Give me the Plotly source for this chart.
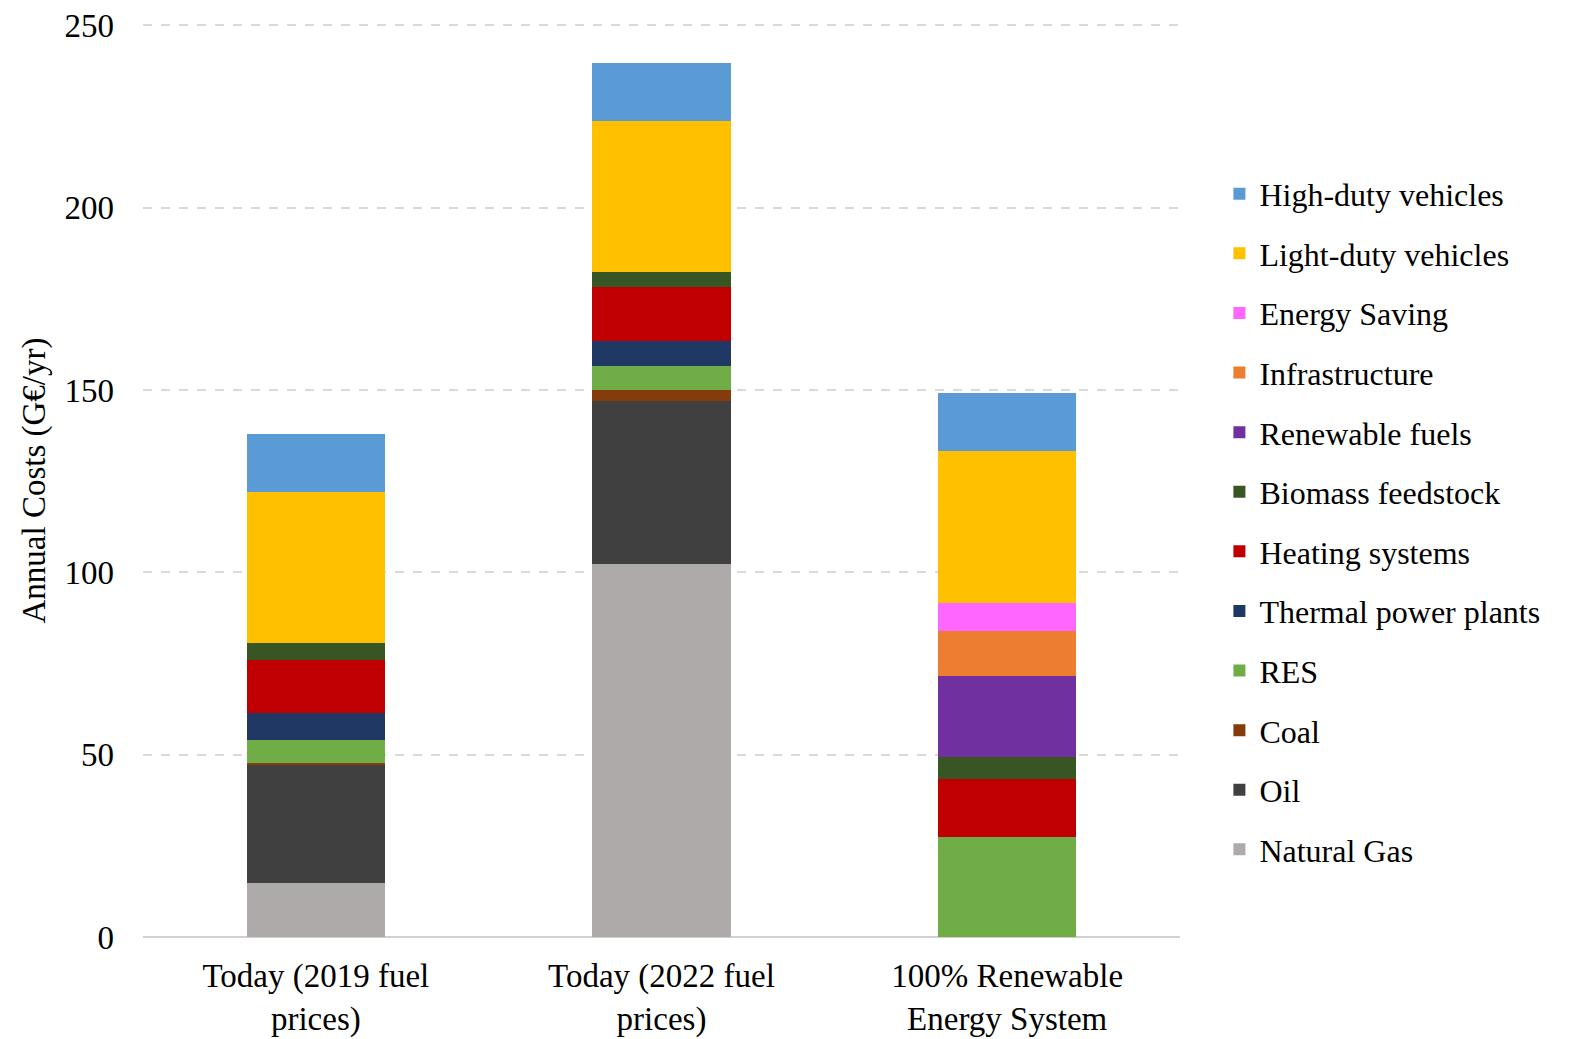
import plotly.graph_objects as go

# Scenarios on the x axis
scenarios = [
    "Today (2019 fuel<br>prices)",
    "Today (2022 fuel<br>prices)",
    "100% Renewable<br>Energy System",
]

# Annual cost components per scenario (G€/yr), bottom of the stack first
natural_gas = [14.8, 102.2, 0]
oil = [32.3, 44.7, 0]
coal = [0.6, 3.2, 0]
res = [6.4, 6.5, 27.5]
thermal_power_plants = [7.2, 6.9, 0]
heating_systems = [14.8, 14.9, 15.9]
biomass_feedstock = [4.6, 4.1, 5.9]
renewable_fuels = [0, 0, 22.3]
infrastructure = [0, 0, 12.2]
energy_saving = [0, 0, 7.9]
light_duty_vehicles = [41.3, 41.4, 41.5]
high_duty_vehicles = [16.0, 15.8, 16.1]

y_ticks = [0, 50, 100, 150, 200, 250]

series = [
    ("Natural Gas", natural_gas, "#AEAAAA"),
    ("Oil", oil, "#404040"),
    ("Coal", coal, "#843C0C"),
    ("RES", res, "#70AD47"),
    ("Thermal power plants", thermal_power_plants, "#1F3864"),
    ("Heating systems", heating_systems, "#C00000"),
    ("Biomass feedstock", biomass_feedstock, "#375623"),
    ("Renewable fuels", renewable_fuels, "#7030A0"),
    ("Infrastructure", infrastructure, "#ED7D31"),
    ("Energy Saving", energy_saving, "#FF66FF"),
    ("Light-duty vehicles", light_duty_vehicles, "#FFC000"),
    ("High-duty vehicles", high_duty_vehicles, "#5B9BD5"),
]

SERIF = "Liberation Serif, Times New Roman, serif"

fig = go.Figure()
n = len(series)
for i, (name, values, color) in enumerate(series):
    fig.add_trace(go.Bar(
        name=name,
        x=scenarios,
        y=values,
        marker=dict(color=color, line=dict(width=0)),
        legendgroup=name,
        # top of the stack is listed first in the legend
        legendrank=100 + (n - i),
    ))

fig.update_layout(
    barmode="stack",
    bargap=0.6,
    width=1574,
    height=1039,
    margin=dict(l=143, r=394, t=24, b=102),
    paper_bgcolor="white",
    plot_bgcolor="white",
    font=dict(family=SERIF, color="#000000"),
    showlegend=True,
    legend=dict(
        traceorder="grouped",
        x=1.038,
        xanchor="left",
        y=0.844,
        yanchor="top",
        font=dict(family=SERIF, size=32, color="#000000"),
        tracegroupgap=15,
        itemwidth=30,
        bgcolor="rgba(0,0,0,0)",
    ),
    xaxis=dict(
        automargin=False,
        showgrid=False,
        showline=False,
        ticks="",
        tickfont=dict(family=SERIF, size=33, color="#000000"),
        ticklabelstandoff=16,
    ),
    yaxis=dict(
        automargin=False,
        range=[0, 250.4],
        tickvals=y_ticks,
        showgrid=True,
        gridcolor="#D9D9D9",
        griddash="dash",
        gridwidth=1.5,
        zeroline=True,
        zerolinecolor="#D0D0D0",
        zerolinewidth=1.5,
        showline=False,
        ticks="",
        tickfont=dict(family=SERIF, size=33, color="#000000"),
        ticklabelstandoff=28,
        title=dict(
            text="Annual Costs (G€/yr)",
            font=dict(family=SERIF, size=33, color="#000000"),
            standoff=8,
        ),
    ),
)

fig.write_html("out.html")
